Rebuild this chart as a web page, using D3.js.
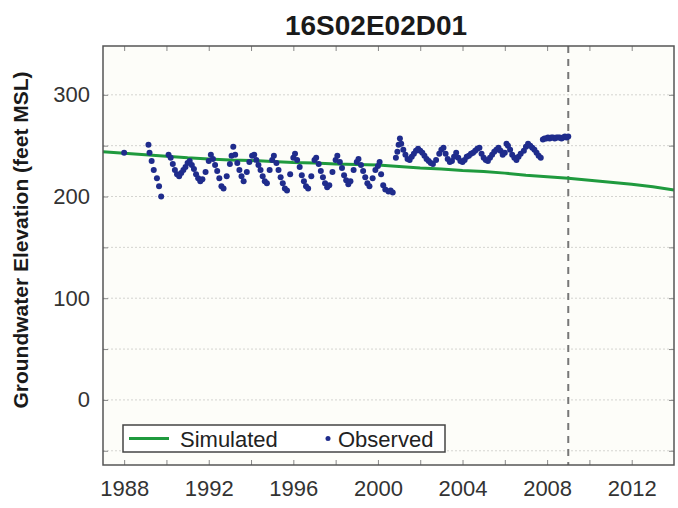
<!DOCTYPE html>
<html><head><meta charset="utf-8">
<script src="https://cdn.jsdelivr.net/npm/d3@7"></script>
<style>
body{margin:0;background:#fff;}
text{font-family:"Liberation Sans",Arial,sans-serif;}
</style></head>
<body><svg id="c" width="678" height="508"></svg>
<script>
const title = "16S02E02D01";
const yLabel = "Groundwater Elevation (feet MSL)";
const xTicks = [1988,1990,1992,1994,1996,1998,2000,2002,2004,2006,2008,2010,2012];
const xLabelTicks = [1988,1992,1996,2000,2004,2008,2012];
const yTicks = [-50,0,50,100,150,200,250,300];
const yLabelTicks = [0,100,200,300];
const predictionStart = 2009;

const simYears = [1987,1988,1989,1990,1991,1992,1993,1994,1995,1996,1997,1998,1999,2000,2001,2002,2003,2004,2005,2006,2007,2008,2009,2010,2011,2012,2013,2014];
const simValues = [244,242.5,241,239.5,238,237,236,235.5,234.5,233.5,233,232,231.5,231,229.5,228,227,225.5,224.5,223,221,219.5,218,216,214,212,209.5,206.5];

const obsYears = [1988.0,
1989.15,1989.2,1989.3,1989.4,1989.55,1989.65,1989.75,
1990.1,1990.2,1990.3,1990.4,1990.5,1990.6,1990.7,1990.8,1990.9,
1991.0,1991.1,1991.2,1991.3,1991.4,1991.5,1991.6,1991.7,1991.85,
1992.0,1992.1,1992.2,1992.3,1992.4,1992.5,1992.6,1992.7,1992.85,
1993.0,1993.08,1993.16,1993.25,1993.35,1993.45,1993.55,1993.65,1993.8,1993.92,
1994.05,1994.15,1994.25,1994.35,1994.45,1994.55,1994.65,1994.75,1994.88,
1995.0,1995.08,1995.2,1995.3,1995.4,1995.5,1995.6,1995.7,1995.85,
1996.0,1996.08,1996.18,1996.3,1996.4,1996.5,1996.6,1996.7,1996.85,
1997.0,1997.08,1997.2,1997.3,1997.4,1997.5,1997.6,1997.7,1997.85,
1998.0,1998.08,1998.2,1998.3,1998.4,1998.5,1998.6,1998.7,1998.85,
1999.0,1999.08,1999.2,1999.3,1999.4,1999.5,1999.6,1999.75,1999.88,
2000.0,2000.08,2000.15,2000.25,2000.35,2000.5,2000.6,2000.7,
2000.85,2000.92,2000.98,2001.04,2001.1,
2001.2,2001.3,2001.4,2001.5,2001.6,2001.7,2001.8,2001.9,
2002.0,2002.1,2002.2,2002.3,2002.4,2002.5,2002.6,2002.75,2002.9,
2003.0,2003.1,2003.2,2003.3,2003.4,2003.5,2003.6,2003.7,2003.8,2003.9,
2004.0,2004.1,2004.2,2004.3,2004.4,2004.5,2004.6,2004.7,2004.8,2004.9,
2005.0,2005.1,2005.2,2005.3,2005.4,2005.5,2005.6,2005.7,2005.8,2005.9,
2006.0,2006.08,2006.15,2006.25,2006.35,2006.45,2006.55,2006.65,2006.75,2006.9,
2007.0,2007.1,2007.2,2007.3,2007.4,2007.5,2007.6,2007.7,
2007.8,2007.88,2007.96,2008.04,2008.12,2008.2,2008.28,2008.36,2008.44,2008.52,2008.6,2008.68,2008.76,2008.84,2008.92,2009.0];
const obsValues = [243,
251,243,235,226,218,210,200,
241,238,232,226,222,220,223,226,229,
233,235,231,227,222,218,215,217,224,
235,241,237,231,225,218,210,208,220,
232,240,249,241,233,226,220,215,224,234,
240,241,236,231,226,220,215,213,226,
236,240,233,226,219,213,208,206,222,
238,242,236,229,221,215,210,208,220,
236,238,232,225,219,213,209,211,224,
236,240,234,228,221,216,212,215,226,
234,237,231,225,219,213,210,218,226,
230,234,222,211,207,205,206,204,
238,244,251,257,252,
246,241,237,236,239,242,245,247,
245,243,240,237,235,233,232,236,242,
246,248,242,237,234,235,239,243,238,235,
234,236,239,240,242,243,245,247,248,242,
238,236,235,238,241,244,246,248,245,241,
243,252,250,246,241,238,236,239,242,245,
249,252,250,248,246,243,240,238,
256,257,257,258,257,258,258,257,258,258,258,257,258,259,258,259];

const svg = d3.select("#c");
const L=103, R=674, T=46, B=465;
const x = d3.scaleLinear().domain([1987,2014]).range([L,R]);
const y = d3.scaleLinear().domain([-64,348]).range([B,T]);

svg.append("rect").attr("x",L).attr("y",T).attr("width",R-L).attr("height",B-T).attr("fill","#fdfdf9");

// gridlines
svg.append("g").selectAll("line").data(yTicks).join("line")
  .attr("x1",L).attr("x2",R).attr("y1",d=>y(d)).attr("y2",d=>y(d))
  .attr("stroke","#d4d4d0").attr("stroke-width",1).attr("stroke-dasharray","2,2");

// axes
svg.append("g").attr("transform",`translate(0,${B})`)
  .call(d3.axisBottom(x).tickValues(xTicks).tickSize(-5).tickPadding(15)
  .tickFormat(d=>xLabelTicks.includes(d)?d:""));
svg.append("g").attr("transform",`translate(0,${T})`)
  .call(d3.axisTop(x).tickValues(xTicks).tickSize(-5).tickFormat(""));
svg.append("g").attr("transform",`translate(${L},0)`)
  .call(d3.axisLeft(y).tickValues(yTicks).tickSize(-5).tickPadding(13)
  .tickFormat(d=>yLabelTicks.includes(d)?d:""));
svg.append("g").attr("transform",`translate(${R},0)`)
  .call(d3.axisRight(y).tickValues(yTicks).tickSize(-5).tickFormat(""));
svg.selectAll(".domain").remove();
svg.selectAll(".tick line").attr("stroke","#888").attr("stroke-width",1);
svg.selectAll(".tick text").attr("font-size",22).attr("fill","#333")
  .attr("font-family","'Liberation Sans',Arial,sans-serif");

// dashed line
svg.append("line").attr("x1",x(predictionStart)).attr("x2",x(predictionStart))
  .attr("y1",T).attr("y2",B).attr("stroke","#777").attr("stroke-width",2).attr("stroke-dasharray","7,6");

// simulated
const sim = simYears.map((d,i)=>[d,simValues[i]]);
svg.append("path").datum(sim).attr("fill","none").attr("stroke","#1f9a3e").attr("stroke-width",3)
  .attr("d",d3.line().x(d=>x(d[0])).y(d=>y(d[1])));

// observed
const obs = obsYears.map((d,i)=>[d,obsValues[i]]);
svg.append("g").selectAll("circle").data(obs).join("circle")
  .attr("cx",d=>x(d[0])).attr("cy",d=>y(d[1])).attr("r",3).attr("fill","#1f2c8c");

// frame
svg.append("rect").attr("x",L).attr("y",T).attr("width",R-L).attr("height",B-T)
  .attr("fill","none").attr("stroke","#555").attr("stroke-width",1.5);

// legend
const lg = svg.append("g");
lg.append("rect").attr("x",123).attr("y",425).attr("width",322).attr("height",27)
  .attr("fill","#fff").attr("stroke","#444").attr("stroke-width",1.5);
lg.append("line").attr("x1",129).attr("x2",169).attr("y1",438.5).attr("y2",438.5)
  .attr("stroke","#1f9a3e").attr("stroke-width",3);
lg.append("text").attr("x",180).attr("y",446.5).attr("font-size",22).attr("fill","#222").text("Simulated");
lg.append("circle").attr("cx",328).attr("cy",438.5).attr("r",2.5).attr("fill","#1f2c8c");
lg.append("text").attr("x",338).attr("y",446.5).attr("font-size",22).attr("fill","#222").text("Observed");

// title
svg.append("text").attr("x",376).attr("y",35).attr("text-anchor","middle")
  .attr("font-size",28).attr("font-weight","bold").attr("fill","#1a1a1a").text(title);
// y label
svg.append("text").attr("transform","translate(28,240) rotate(-90)").attr("text-anchor","middle")
  .attr("font-size",21).attr("font-weight","bold").attr("fill","#1a1a1a").text(yLabel);
</script></body></html>
